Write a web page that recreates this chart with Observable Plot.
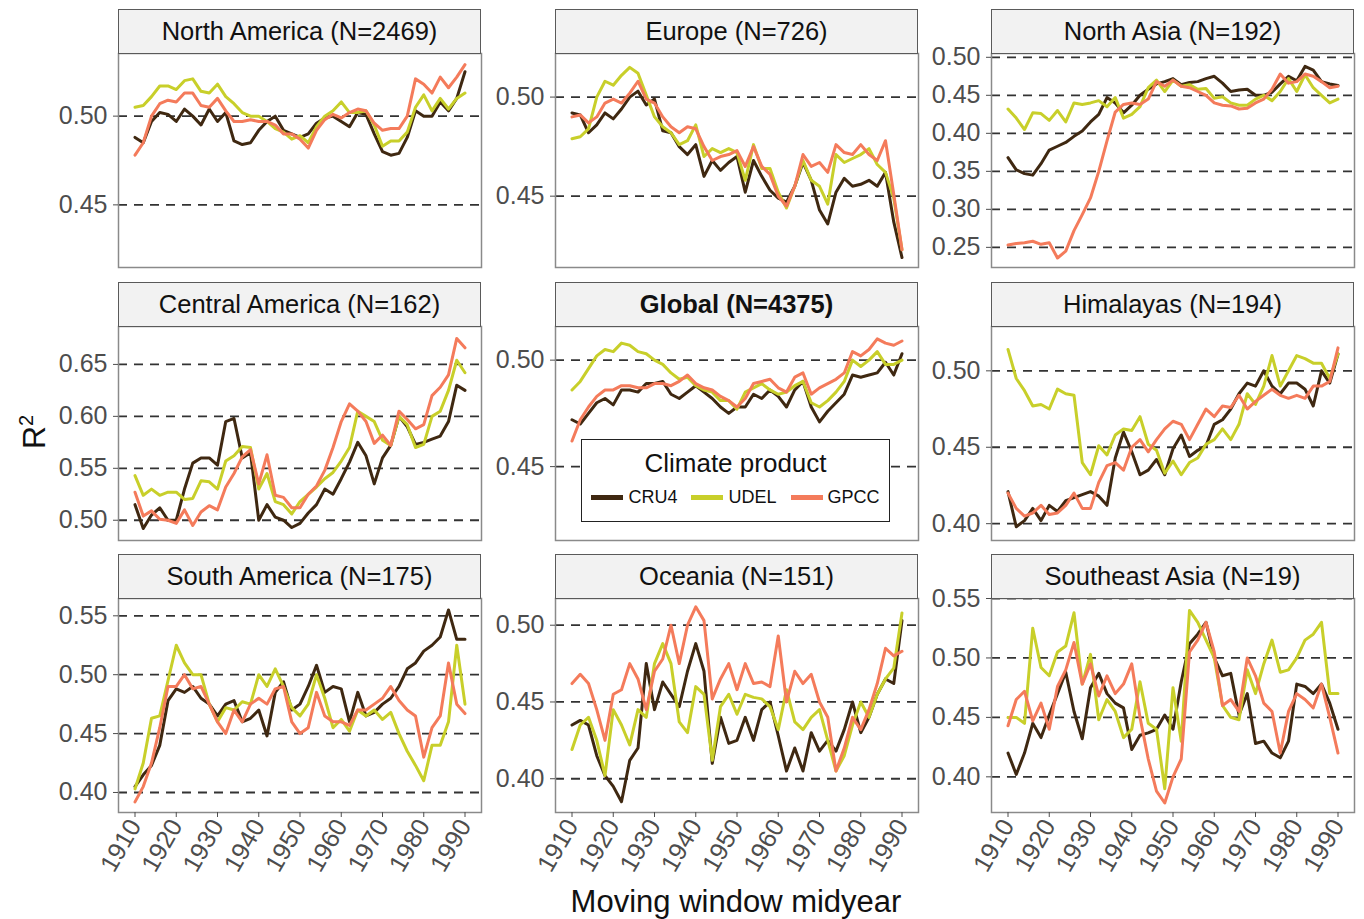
<!DOCTYPE html>
<html><head><meta charset="utf-8">
<script src="https://cdn.jsdelivr.net/npm/d3@7"></script>
<script src="https://cdn.jsdelivr.net/npm/@observablehq/plot@0.6"></script>
<style>
body{margin:0;background:#fff;font-family:"Liberation Sans",Arial,sans-serif;}
#wrap{position:relative;width:1364px;height:919px;overflow:hidden;background:#fff;}
.strip{position:absolute;box-sizing:border-box;background:#f2f2f2;border:1.5px solid #5a5a5a;text-align:center;font-size:25.5px;color:#111;display:flex;align-items:center;justify-content:center;}
.pl{position:absolute;}
.pl svg{overflow:visible;}
#legend{position:absolute;left:581px;top:439px;width:309px;height:83px;box-sizing:border-box;border:1.5px solid #222;background:#fff;}
#legend .t{text-align:center;font-size:26px;color:#111;margin-top:8px;}
#legend .row{display:flex;justify-content:center;align-items:center;margin-top:8px;font-size:18px;color:#111;}
#legend .k{display:inline-block;width:32px;height:5px;margin-right:5px;}
#legend .it{display:flex;align-items:center;margin:0 7px;}
#ylab{position:absolute;left:34px;top:432px;transform:translate(-50%,-50%) rotate(-90deg);font-size:32px;color:#111;white-space:nowrap;}
#xlab{position:absolute;left:736px;top:902px;transform:translate(-50%,-50%);font-size:31px;color:#111;white-space:nowrap;}
</style></head>
<body><div id="wrap"></div>
<script>
const years = d3.range(1910, 1991, 2);
const products = ["CRU4", "UDEL", "GPCC"];
const productColors = ["#3f2811", "#c8cf2a", "#f47b5b"];
const xTicks = [1910, 1920, 1930, 1940, 1950, 1960, 1970, 1980, 1990];

const NA_CRU4 = [.488,.485,.497,.502,.501,.497,.504,.500,.495,.504, .497,.502,.486,.484,.485,.492,.497,.500,.492,.490, .488,.490,.496,.499,.500,.497,.494,.502,.501,.490, .480,.478,.479,.488,.503,.500,.500,.508,.503,.510, .525];
const NA_UDEL = [.505,.506,.511,.517,.517,.515,.520,.521,.514,.513, .518,.511,.507,.502,.500,.500,.497,.493,.491,.487, .489,.485,.494,.500,.503,.508,.502,.502,.503,.495, .483,.486,.486,.491,.505,.512,.503,.510,.504,.510, .513];
const NA_GPCC = [.478,.485,.500,.507,.509,.508,.513,.513,.506,.505, .510,.503,.497,.497,.498,.497,.497,.495,.490,.490, .487,.482,.492,.498,.501,.499,.502,.504,.503,.496, .492,.493,.493,.500,.521,.518,.513,.522,.516,.522, .529];

const EU_CRU4 = [.492,.491,.482,.486,.492,.489,.494,.500,.503,.496, .499,.483,.482,.475,.471,.476,.460,.468,.463,.467, .470,.452,.468,.460,.453,.449,.447,.455,.467,.458, .443,.436,.452,.459,.455,.456,.458,.455,.462,.437, .419];
const EU_UDEL = [.479,.480,.484,.500,.508,.506,.511,.515,.512,.501, .490,.485,.482,.476,.478,.486,.470,.474,.472,.474, .472,.458,.476,.464,.464,.452,.444,.455,.468,.458, .455,.446,.471,.467,.469,.471,.474,.466,.462,.449, .423];
const EU_GPCC = [.490,.491,.487,.490,.497,.499,.497,.502,.508,.499, .497,.490,.485,.482,.485,.484,.475,.468,.470,.471, .473,.465,.475,.465,.461,.450,.445,.455,.471,.465, .467,.462,.476,.472,.471,.476,.471,.468,.478,.451, .423];

const NAS_CRU4 = [.368,.352,.347,.345,.360,.378,.383,.388,.396,.403, .415,.425,.447,.440,.427,.437,.450,.458,.465,.468, .472,.464,.467,.468,.472,.475,.466,.455,.457,.458, .450,.450,.454,.465,.475,.469,.488,.483,.468,.465, .463];
const NAS_UDEL = [.432,.420,.405,.427,.426,.417,.430,.415,.440,.438, .440,.443,.435,.447,.420,.425,.435,.460,.470,.455, .470,.462,.464,.458,.459,.446,.448,.440,.437,.437, .445,.450,.443,.455,.472,.455,.477,.460,.450,.440, .445];
const NAS_GPCC = [.253,.255,.256,.258,.254,.256,.236,.245,.272,.293, .315,.350,.390,.428,.438,.440,.438,.445,.468,.462, .470,.462,.460,.455,.450,.440,.437,.436,.432,.433, .440,.445,.458,.478,.466,.468,.478,.475,.468,.460, .462];

const CA_CRU4 = [.515,.492,.505,.512,.500,.500,.530,.555,.560,.560, .553,.595,.598,.560,.565,.500,.515,.503,.500,.493, .497,.507,.515,.530,.525,.540,.556,.575,.562,.535, .560,.572,.600,.590,.573,.575,.578,.581,.595,.630, .625];
const CA_UDEL = [.543,.524,.530,.524,.527,.527,.520,.521,.538,.537, .530,.557,.562,.571,.570,.530,.545,.518,.515,.506, .518,.525,.532,.540,.546,.557,.570,.605,.600,.595, .577,.572,.600,.592,.570,.573,.600,.605,.625,.654, .642];
const CA_GPCC = [.527,.504,.509,.501,.500,.497,.510,.495,.508,.514, .510,.532,.545,.561,.568,.535,.563,.524,.522,.512, .512,.525,.533,.548,.570,.595,.612,.605,.595,.574, .582,.572,.605,.597,.588,.592,.620,.628,.640,.675, .666];

const GL_CRU4 = [.472,.470,.475,.480,.482,.479,.486,.486,.485,.489, .489,.490,.484,.482,.485,.488,.485,.482,.478,.475, .478,.478,.484,.482,.486,.483,.478,.486,.490,.478, .471,.476,.480,.484,.493,.492,.493,.494,.499,.493, .503];
const GL_UDEL = [.486,.490,.496,.502,.505,.504,.508,.507,.504,.503, .500,.498,.494,.491,.492,.488,.486,.485,.481,.481, .477,.485,.487,.489,.486,.484,.485,.488,.490,.480, .478,.481,.485,.490,.500,.497,.500,.504,.498,.498, .500];
const GL_GPCC = [.462,.472,.478,.483,.486,.486,.488,.488,.487,.487, .489,.489,.488,.490,.493,.489,.487,.486,.483,.481, .478,.482,.489,.490,.491,.487,.485,.492,.494,.484, .487,.489,.491,.494,.504,.502,.505,.510,.508,.507, .509];

const HIM_CRU4 = [.421,.398,.402,.410,.402,.412,.408,.415,.417,.419, .421,.418,.412,.443,.460,.447,.432,.435,.442,.432, .449,.458,.444,.448,.451,.465,.468,.475,.485,.492, .490,.500,.490,.485,.492,.492,.488,.477,.500,.492, .511];
const HIM_UDEL = [.514,.495,.487,.477,.478,.475,.488,.485,.484,.440, .432,.451,.445,.458,.462,.461,.470,.452,.448,.433, .441,.432,.440,.443,.452,.455,.462,.455,.465,.485, .478,.490,.510,.490,.500,.510,.508,.505,.505,.495, .511];
const HIM_GPCC = [.420,.410,.405,.407,.412,.406,.407,.412,.420,.410, .410,.427,.438,.440,.435,.450,.455,.447,.455,.462, .467,.465,.455,.465,.475,.470,.477,.476,.484,.475, .480,.484,.488,.484,.482,.484,.482,.490,.490,.493, .515];

const SA_CRU4 = [.405,.415,.423,.440,.478,.488,.485,.490,.480,.475, .465,.475,.478,.460,.463,.470,.448,.485,.494,.470, .475,.490,.508,.485,.490,.488,.460,.485,.465,.468, .475,.480,.490,.505,.510,.520,.525,.532,.555,.530, .530];
const SA_UDEL = [.403,.425,.463,.465,.495,.525,.510,.500,.500,.475, .460,.472,.470,.477,.475,.500,.490,.505,.490,.472, .465,.475,.500,.480,.455,.462,.452,.470,.465,.470, .462,.468,.450,.435,.423,.410,.440,.440,.460,.525, .475];
const SA_GPCC = [.392,.405,.425,.455,.490,.490,.500,.488,.490,.475, .460,.450,.470,.460,.475,.480,.475,.488,.490,.460, .450,.455,.485,.465,.460,.460,.457,.470,.470,.475, .480,.490,.478,.470,.465,.430,.455,.465,.510,.475, .467];

const OC_CRU4 = [.435,.438,.435,.415,.402,.395,.385,.412,.420,.475, .445,.463,.455,.447,.470,.488,.470,.410,.440,.423, .425,.440,.425,.445,.450,.428,.405,.420,.405,.430, .418,.425,.418,.432,.450,.430,.440,.455,.465,.462, .503];
const OC_UDEL = [.419,.435,.440,.425,.402,.445,.435,.422,.445,.440, .475,.488,.475,.437,.430,.460,.455,.412,.447,.455, .442,.455,.453,.452,.447,.432,.458,.437,.432,.440, .445,.425,.405,.415,.435,.450,.440,.455,.465,.472, .508];
const OC_GPCC = [.462,.468,.462,.445,.425,.455,.458,.475,.465,.445, .470,.478,.500,.475,.500,.512,.503,.452,.465,.475, .458,.475,.462,.463,.460,.493,.450,.470,.462,.468, .450,.440,.405,.420,.440,.432,.445,.462,.485,.480, .483];

const SEA_CRU4 = [.420,.402,.420,.445,.433,.452,.470,.488,.455,.432, .475,.487,.470,.462,.458,.423,.435,.437,.440,.452, .440,.480,.512,.520,.530,.500,.485,.487,.452,.470, .428,.430,.420,.416,.430,.478,.476,.470,.478,.462, .440];
const SEA_UDEL = [.450,.450,.445,.525,.492,.485,.505,.510,.538,.478, .503,.448,.465,.455,.433,.440,.480,.445,.440,.390, .475,.430,.540,.530,.515,.500,.460,.450,.448,.490, .470,.495,.515,.488,.490,.500,.515,.520,.530,.470, .470];
const SEA_GPCC = [.443,.465,.472,.447,.462,.440,.476,.490,.513,.478, .495,.468,.485,.470,.478,.495,.450,.415,.388,.378, .400,.415,.505,.515,.530,.505,.460,.465,.455,.500, .485,.462,.455,.420,.455,.470,.465,.458,.478,.450, .420];

const panels = [
  {title:"North America (N=2469)", row:0, col:0, y:[0.4147,0.5353], ticks:[0.45,0.50], s:[NA_CRU4,NA_UDEL,NA_GPCC]},
  {title:"Europe (N=726)", row:0, col:1, y:[0.414,0.522], ticks:[0.45,0.50], s:[EU_CRU4,EU_UDEL,EU_GPCC]},
  {title:"North Asia (N=192)", row:0, col:2, y:[0.2235,0.505], ticks:[0.25,0.30,0.35,0.40,0.45,0.50], s:[NAS_CRU4,NAS_UDEL,NAS_GPCC]},
  {title:"Central America (N=162)", row:1, col:0, y:[0.4805,0.6865], ticks:[0.50,0.55,0.60,0.65], s:[CA_CRU4,CA_UDEL,CA_GPCC]},
  {title:"Global (N=4375)", bold:true, row:1, col:1, y:[0.4153,0.5158], ticks:[0.45,0.50], s:[GL_CRU4,GL_UDEL,GL_GPCC]},
  {title:"Himalayas (N=194)", row:1, col:2, y:[0.389,0.529], ticks:[0.40,0.45,0.50], s:[HIM_CRU4,HIM_UDEL,HIM_GPCC]},
  {title:"South America (N=175)", row:2, col:0, y:[0.383,0.5647], ticks:[0.40,0.45,0.50,0.55], s:[SA_CRU4,SA_UDEL,SA_GPCC]},
  {title:"Oceania (N=151)", row:2, col:1, y:[0.378,0.5174], ticks:[0.40,0.45,0.50], s:[OC_CRU4,OC_UDEL,OC_GPCC]},
  {title:"Southeast Asia (N=19)", row:2, col:2, y:[0.370,0.550], ticks:[0.40,0.45,0.50,0.55], s:[SEA_CRU4,SEA_UDEL,SEA_GPCC]}
];

const colLeft = [118, 555, 991];
const rowTop = [52.5, 325.5, 597.5];
const PW = 363, PH = 214, STRIP = 44;
const ML = 80, MR = 6, MT = 2;

const wrap = document.getElementById("wrap");

for (const p of panels) {
  const bottom = p.row === 2;
  const MB = bottom ? 80 : 2;
  const rows = [];
  p.s.forEach((arr, k) => arr.forEach((v, i) => rows.push({year: years[i], value: v, product: products[k]})));
  const marks = [
    Plot.ruleY(p.ticks, {stroke:"#333", strokeWidth:1.8, strokeDasharray:"9,7"}),
    Plot.line(rows, {x:"year", y:"value", stroke:"product", z:"product", strokeWidth:3, strokeLinejoin:"round"}),
    Plot.frame({stroke:"#8a8a8a", strokeWidth:1.5}),
    Plot.axisY({ticks:p.ticks, label:null, tickSize:5, tickPadding:6, tickFormat:d3.format(".2f"), fontSize:25})
  ];
  if (bottom) marks.push(Plot.axisX({ticks:xTicks, label:null, tickSize:5, tickPadding:4, tickRotate:-60, fontSize:25, tickFormat:d=>String(d)}));
  const svg = Plot.plot({
    width: PW + ML + MR, height: PH + MT + MB,
    marginLeft: ML, marginRight: MR, marginTop: MT, marginBottom: MB,
    x: {domain:[1906, 1994], axis:null, label:null},
    y: {domain:p.y, axis:null, label:null},
    color: {domain:products, range:productColors},
    style: {background:"transparent", color:"#4d4d4d", fontFamily:"'Liberation Sans', Arial, sans-serif", overflow:"visible"},
    marks
  });
  const div = document.createElement("div");
  div.className = "pl";
  div.style.left = (colLeft[p.col] - ML) + "px";
  div.style.top = (rowTop[p.row] - MT) + "px";
  div.appendChild(svg);
  wrap.appendChild(div);

  const st = document.createElement("div");
  st.className = "strip";
  st.style.left = colLeft[p.col] + "px";
  st.style.top = (rowTop[p.row] - STRIP) + "px";
  st.style.width = PW + "px";
  st.style.height = (STRIP + 1) + "px";
  if (p.bold) st.style.fontWeight = "bold";
  st.textContent = p.title;
  wrap.appendChild(st);
}

const lg = document.createElement("div");
lg.id = "legend";
lg.innerHTML = '<div class="t">Climate product</div><div class="row">' +
  products.map((d, i) => `<span class="it"><span class="k" style="background:${productColors[i]}"></span>${d}</span>`).join("") + '</div>';
wrap.appendChild(lg);

const yl = document.createElement("div");
yl.id = "ylab"; yl.innerHTML = 'R<sup style="font-size:20px">2</sup>';
wrap.appendChild(yl);
const xl = document.createElement("div");
xl.id = "xlab"; xl.textContent = "Moving window midyear";
wrap.appendChild(xl);
</script></body></html>
